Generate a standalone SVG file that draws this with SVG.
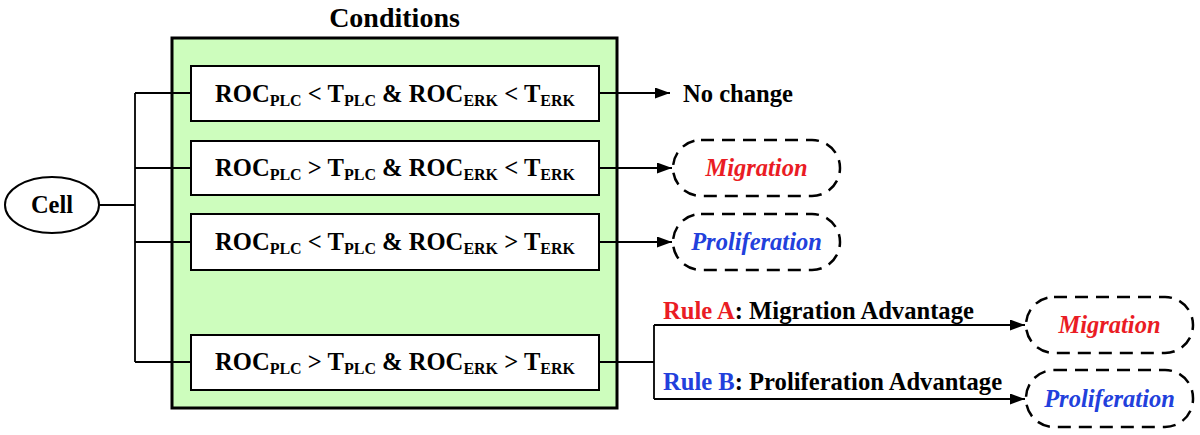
<svg xmlns="http://www.w3.org/2000/svg" width="1200" height="435" viewBox="0 0 1200 435">
  <defs>
    <marker id="arrow" markerUnits="userSpaceOnUse" markerWidth="16" markerHeight="12" refX="15" refY="5.5" orient="auto">
      <path d="M0,0 L15,5.5 L0,11 z" fill="#000"/>
    </marker>
    <style>
      text { font-family: "Liberation Serif", "Times New Roman", serif; font-weight: bold; }
      .cond { font-size: 24.6px; fill: #000; }
      .sub { font-size: 16px; }
      .box { fill: #fff; stroke: #000; stroke-width: 2; }
      .pill { fill: #fff; stroke: #000; stroke-width: 2.5; stroke-dasharray: 13 8; }
      .line { fill: none; stroke: #000; stroke-width: 1.8; }
      .arr { fill: none; stroke: #000; stroke-width: 1.8; marker-end: url(#arrow); }
      .out { font-size: 24.5px; font-style: italic; text-anchor: middle; }
      .red { fill: #ea1c24; }
      .blue { fill: #2240dc; }
      .lbl { font-size: 24.6px; fill: #000; }
    </style>
  </defs>

  <g id="conditions-frame">
    <rect x="172" y="38" width="445" height="370" fill="#cdfdbd" stroke="#000" stroke-width="3"/>
    <text x="394.5" y="27" font-size="28" text-anchor="middle" fill="#000">Conditions</text>
  </g>

  <g id="connectors">
    <line class="line" x1="99" y1="205" x2="135" y2="205"/>
    <line class="line" x1="135" y1="93" x2="135" y2="362"/>
    <line class="line" x1="135" y1="93" x2="191" y2="93"/>
    <line class="line" x1="135" y1="168" x2="191" y2="168"/>
    <line class="line" x1="135" y1="242" x2="191" y2="242"/>
    <line class="line" x1="135" y1="362" x2="191" y2="362"/>
    <line class="arr" x1="599" y1="93" x2="670" y2="93"/>
    <line class="arr" x1="599" y1="168" x2="672" y2="168"/>
    <line class="arr" x1="599" y1="242" x2="672" y2="242"/>
    <line class="line" x1="599" y1="362" x2="654" y2="362"/>
    <line class="line" x1="654" y1="325" x2="654" y2="399"/>
    <line class="arr" x1="654" y1="325" x2="1025" y2="325"/>
    <line class="arr" x1="654" y1="399" x2="1025" y2="399"/>
  </g>

  <g id="cell">
    <ellipse cx="52" cy="205" rx="47" ry="28" fill="#fff" stroke="#000" stroke-width="2"/>
    <text x="52" y="213" font-size="24.5" text-anchor="middle" fill="#000">Cell</text>
  </g>

  <g id="cond1">
    <rect class="box" x="191" y="66" width="408" height="55"/>
    <text class="cond" x="215" y="102">ROC<tspan class="sub" dy="4">PLC</tspan><tspan dy="-4"> &lt; T</tspan><tspan class="sub" dy="4">PLC</tspan><tspan dy="-4"> &amp; ROC</tspan><tspan class="sub" dy="4">ERK</tspan><tspan dy="-4"> &lt; T</tspan><tspan class="sub" dy="4">ERK</tspan></text>
  </g>
  <g id="cond2">
    <rect class="box" x="191" y="141" width="408" height="54"/>
    <text class="cond" x="215" y="176">ROC<tspan class="sub" dy="4">PLC</tspan><tspan dy="-4"> &gt; T</tspan><tspan class="sub" dy="4">PLC</tspan><tspan dy="-4"> &amp; ROC</tspan><tspan class="sub" dy="4">ERK</tspan><tspan dy="-4"> &lt; T</tspan><tspan class="sub" dy="4">ERK</tspan></text>
  </g>
  <g id="cond3">
    <rect class="box" x="191" y="214" width="408" height="56"/>
    <text class="cond" x="215" y="250">ROC<tspan class="sub" dy="4">PLC</tspan><tspan dy="-4"> &lt; T</tspan><tspan class="sub" dy="4">PLC</tspan><tspan dy="-4"> &amp; ROC</tspan><tspan class="sub" dy="4">ERK</tspan><tspan dy="-4"> &gt; T</tspan><tspan class="sub" dy="4">ERK</tspan></text>
  </g>
  <g id="cond4">
    <rect class="box" x="191" y="335" width="408" height="55"/>
    <text class="cond" x="215" y="370">ROC<tspan class="sub" dy="4">PLC</tspan><tspan dy="-4"> &gt; T</tspan><tspan class="sub" dy="4">PLC</tspan><tspan dy="-4"> &amp; ROC</tspan><tspan class="sub" dy="4">ERK</tspan><tspan dy="-4"> &gt; T</tspan><tspan class="sub" dy="4">ERK</tspan></text>
  </g>

  <g id="no-change">
    <text class="lbl" x="683" y="102">No change</text>
  </g>
  <g id="migration1">
    <rect class="pill" x="673" y="140" width="167" height="56" rx="28" ry="28"/>
    <text class="out red" x="756.5" y="176">Migration</text>
  </g>
  <g id="proliferation1">
    <rect class="pill" x="673" y="214" width="167" height="56" rx="28" ry="28"/>
    <text class="out blue" x="756.5" y="250">Proliferation</text>
  </g>
  <g id="rule-a">
    <text class="lbl" x="663" y="319"><tspan class="red">Rule A</tspan>: Migration Advantage</text>
  </g>
  <g id="rule-b">
    <text class="lbl" x="663" y="390"><tspan class="blue">Rule B</tspan>: Proliferation Advantage</text>
  </g>
  <g id="migration2">
    <rect class="pill" x="1026" y="297" width="167" height="56" rx="28" ry="28"/>
    <text class="out red" x="1109.5" y="333">Migration</text>
  </g>
  <g id="proliferation2">
    <rect class="pill" x="1026" y="370" width="167" height="57" rx="28" ry="28"/>
    <text class="out blue" x="1109.5" y="407">Proliferation</text>
  </g>
</svg>
